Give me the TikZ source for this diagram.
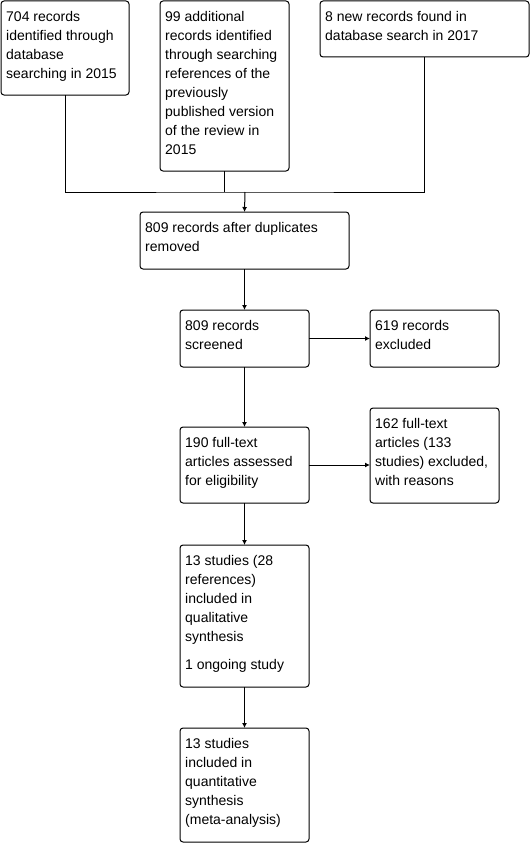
\documentclass[tikz,border=0pt]{standalone}
\usepackage{fontspec}
\setmainfont{Liberation Sans}
\usetikzlibrary{arrows.meta}
\begin{document}
\begin{tikzpicture}[x=1pt,y=-1pt,
  box/.style={draw, line width=1pt, rounded corners=3pt, anchor=north west, inner sep=0pt, outer sep=0pt},
  txt/.style={anchor=north west, inner sep=0pt, align=left, font=\fontsize{14}{19}\selectfont},
  ln/.style={line width=1pt},
  arr/.style={line width=1pt, -{Latex[length=5pt,width=5pt]}}]
\useasboundingbox (0,0) rectangle (532,843);
% boxes
\node[box, minimum width=128pt, minimum height=94pt]  (A) at (1,1) {};
\node[box, minimum width=129pt, minimum height=170pt] (B) at (160,1) {};
\node[box, minimum width=209pt, minimum height=56pt]  (C) at (320,1) {};
\node[box, minimum width=209pt, minimum height=57pt]  (D) at (140,212) {};
\node[box, minimum width=129pt, minimum height=57pt]  (E) at (180,310) {};
\node[box, minimum width=129pt, minimum height=57pt]  (F) at (370,310) {};
\node[box, minimum width=129pt, minimum height=76pt]  (G) at (180,427) {};
\node[box, minimum width=129pt, minimum height=95pt]  (H) at (370,408) {};
\node[box, minimum width=129pt, minimum height=142pt] (I) at (180,545) {};
\node[box, minimum width=129pt, minimum height=114pt] (J) at (180,728) {};
% texts
\node[txt] (At) at (6,7.7) {\strut 704 records\\identified through\\database\\searching in 2015};
\node[txt] (Bt) at (165,7.7) {\strut 99 additional\\records identified\\through searching\\references of the\\previously\\published version\\of the review in\\2015};
\node[txt] (Ct) at (325,7.7) {\strut 8 new records found in\\database search in 2017};
\node[txt] (Dt) at (145,218.7) {\strut 809 records after duplicates\\removed};
\node[txt] (Et) at (185,316.7) {\strut 809 records\\screened};
\node[txt] (Ft) at (375,316.7) {\strut 619 records\\excluded};
\node[txt] (Gt) at (185,433.7) {\strut 190 full-text\\articles assessed\\for eligibility};
\node[txt] (Ht) at (375,414.7) {\strut 162 full-text\\articles (133\\studies) excluded,\\with reasons};
\node[txt] (It) at (185,551.7) {\strut 13 studies (28\\references)\\included in\\qualitative\\synthesis\\[9pt]1 ongoing study};
\node[txt] (Jt) at (185,734.7) {\strut 13 studies\\included in\\quantitative\\synthesis\\(meta-analysis)};
% connectors
\coordinate (jn) at (245,192);
\draw[ln] (A.south) |- (jn) -| (C.south);
\draw[ln] (B.south) -- (B.south |- jn);
\draw[arr] (jn) -- (D.north);
\draw[arr] (D.south) -- (E.north);
\draw[arr] (E.east) -- (F.west);
\draw[arr] (E.south) -- (G.north);
\draw[arr] (G.east) -- (G.east -| H.west);
\draw[arr] (G.south) -- (I.north);
\draw[arr] (I.south) -- (J.north);
\end{tikzpicture}
\end{document}
